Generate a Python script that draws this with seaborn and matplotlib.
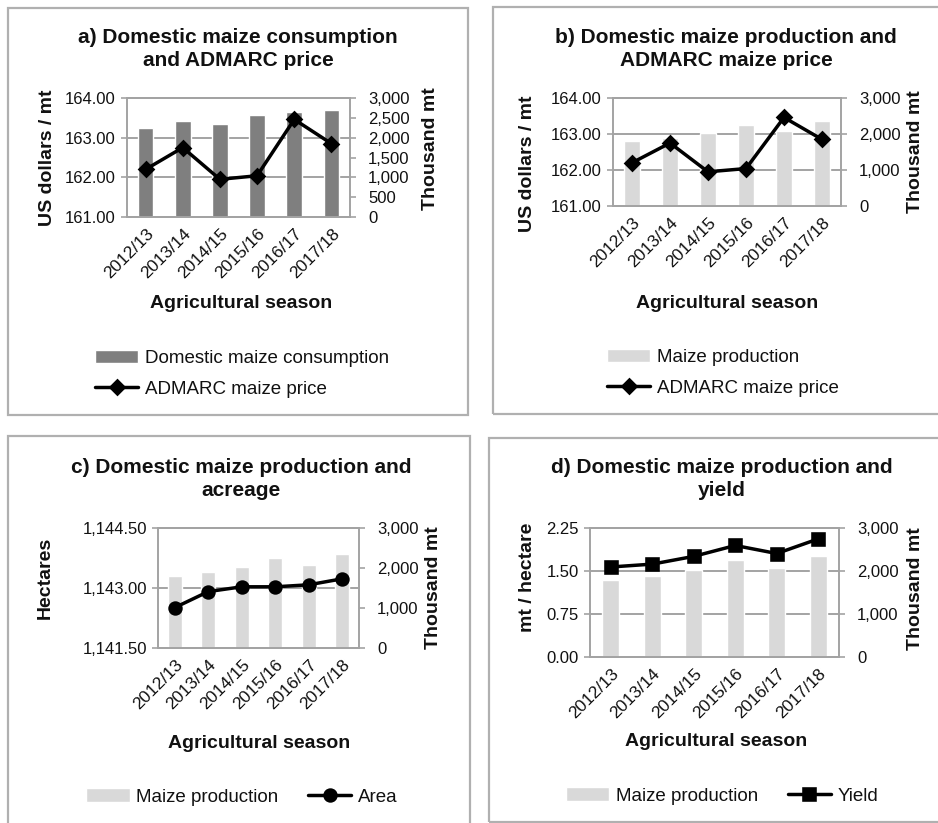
import numpy as np
import pandas as pd
import matplotlib
matplotlib.use("Agg")
import matplotlib.pyplot as plt
import matplotlib.transforms as mtransforms
from matplotlib.patches import Rectangle
from matplotlib.ticker import FuncFormatter
import seaborn as sns

# ---------------- data ----------------
seasons = ['2012/13', '2013/14', '2014/15', '2015/16', '2016/17', '2017/18']
consumption = [2250, 2410, 2335, 2570, 2655, 2690]          # thousand mt
production = [1800, 1890, 2030, 2250, 2080, 2360]           # thousand mt
admarc_price = [162.20, 162.75, 161.95, 162.04, 163.46, 162.85]  # US$/mt
area = [1142.51, 1142.91, 1143.03, 1143.03, 1143.08, 1143.23]    # hectares
yield_mt_ha = [1.57, 1.62, 1.755, 1.945, 1.805, 2.06]            # mt/ha

price_ticks = [161.0, 162.0, 163.0, 164.0]
area_ticks = [1141.5, 1143.0, 1144.5]
yield_ticks = [0.0, 0.75, 1.5, 2.25]
thousand_ticks_a = [0, 500, 1000, 1500, 2000, 2500, 3000]
thousand_ticks = [0, 1000, 2000, 3000]

# ---------------- style ----------------
sns.set_theme(style="white")
plt.rcParams['font.family'] = ['Liberation Sans', 'DejaVu Sans']
W, H = 938, 823
fig = plt.figure(figsize=(W / 100, H / 100), dpi=100)
fig.patch.set_facecolor('white')

GRID = '#a3a3a3'
BORDER = '#b0b0b0'
TXT = '#111111'
DARK_BAR = '#7f7f7f'
LIGHT_BAR = '#d9d9d9'


def fx(x):
    return x / W


def fy(y):
    return 1 - y / H


def rect(l, t, r, b):
    return [fx(l), fy(b), (r - l) / W, (b - t) / H]


def panel_box(l, t, r, b):
    fig.patches.append(Rectangle((fx(l), fy(b)), (r - l) / W, (b - t) / H,
                                 transform=fig.transFigure, fill=False,
                                 edgecolor=BORDER, lw=1.6, zorder=0))


def make_panel(box, bars, bar_color, line_vals, marker, msize,
               left_ticks, left_fmt, right_ticks):
    ax_line = fig.add_axes(rect(*box))
    ax_bar = ax_line.twinx()

    df = pd.DataFrame({'season': seasons, 'bars': bars, 'line': line_vals})
    sns.barplot(data=df, x='season', y='bars', ax=ax_bar, color=bar_color,
                width=0.42, saturation=1, zorder=2)
    sns.pointplot(data=df, x='season', y='line', ax=ax_line, color='black',
                  markers=marker, linestyles='-', errorbar=None,
                  markersize=msize, linewidth=2.5)
    for ax in (ax_line, ax_bar):
        if ax.get_legend() is not None:
            ax.get_legend().remove()

    ax_line.set_zorder(ax_bar.get_zorder() + 1)
    ax_line.patch.set_visible(False)

    ax_line.set_ylim(left_ticks[0], left_ticks[-1])
    ax_line.set_yticks(left_ticks)
    ax_line.yaxis.set_major_formatter(FuncFormatter(left_fmt))
    ax_bar.set_ylim(right_ticks[0], right_ticks[-1])
    ax_bar.set_yticks(right_ticks)
    ax_bar.yaxis.set_major_formatter(FuncFormatter(lambda v, p: f'{v:,.0f}'))
    ax_line.set_xlim(-0.5, len(seasons) - 0.5)

    # horizontal gridlines behind the bars, placed on the left-axis scale
    for t in left_ticks:
        ax_bar.plot([0, 1], [t, t], transform=ax_line.get_yaxis_transform(),
                    color=GRID, lw=1.4, zorder=0.5, clip_on=False)

    for ax in (ax_line, ax_bar):
        ax.grid(False)
        ax.set_xlabel('')
        ax.set_ylabel('')
    for s in ax_bar.spines.values():
        s.set_visible(False)
    for s in ax_line.spines.values():
        s.set_color(GRID)
        s.set_linewidth(1.4)

    ax_line.tick_params(axis='y', direction='out', length=4, width=1.2,
                        color=GRID, labelsize=12, labelcolor=TXT, pad=4)
    ax_bar.tick_params(axis='y', direction='out', length=4, width=1.2,
                       color=GRID, labelsize=12, labelcolor=TXT, pad=9)
    ax_line.tick_params(axis='x', which='major', length=0, labelsize=12.5,
                        labelcolor=TXT, pad=10, labelrotation=45)
    ax_line.set_xticks(np.arange(-0.5, len(seasons)), minor=True)
    ax_line.tick_params(axis='x', which='minor', direction='out', length=5,
                        width=1.2, color=GRID)
    shift = mtransforms.ScaledTranslation(4 / 72, 0, fig.dpi_scale_trans)
    for lab in ax_line.get_xticklabels():
        lab.set_ha('right')
        lab.set_va('center')
        lab.set_rotation_mode('anchor')
        lab.set_transform(lab.get_transform() + shift)

    handles = [ax_bar.patches[0], ax_line.lines[0]]
    return handles


def fmt2(v, p):
    return f'{v:.2f}'


def fmt_area(v, p):
    return f'{v:,.2f}'


# ---------------- panel boxes ----------------
panel_box(8, 8, 468, 415)
panel_box(493, 7, 945, 414)
panel_box(8, 436, 470, 830)
panel_box(489, 438, 945, 822)

# ---------------- panels ----------------
ha = make_panel((127, 98, 350, 217), consumption, DARK_BAR, admarc_price, 'D', 7,
                price_ticks, fmt2, thousand_ticks_a)
hb = make_panel((613, 98, 841, 206), production, LIGHT_BAR, admarc_price, 'D', 7,
                price_ticks, fmt2, thousand_ticks)
hc = make_panel((158, 528, 359, 648), production, LIGHT_BAR, area, 'o', 8.5,
                area_ticks, fmt_area, thousand_ticks)
hd = make_panel((590, 528, 839, 657), production, LIGHT_BAR, yield_mt_ha, 's', 9,
                yield_ticks, fmt2, thousand_ticks)

# ---------------- texts ----------------
title_kw = dict(ha='center', va='center', fontsize=15, fontweight='bold',
                color=TXT, linespacing=1.25)
fig.text(fx(238), fy(49), 'a) Domestic maize consumption\nand ADMARC price', **title_kw)
fig.text(fx(726), fy(49), 'b) Domestic maize production and\nADMARC maize price', **title_kw)
fig.text(fx(241), fy(479), 'c) Domestic maize production and\nacreage', **title_kw)
fig.text(fx(722), fy(479), 'd) Domestic maize production and\nyield', **title_kw)

lab_kw = dict(ha='center', va='center', fontsize=14, fontweight='bold', color=TXT)
for (x, y) in [(241, 304), (727, 303), (259, 743), (716, 742)]:
    fig.text(fx(x), fy(y), 'Agricultural season', **lab_kw)

for (x, y, s) in [(47, 158, 'US dollars / mt'), (528, 164, 'US dollars / mt'),
                  (45, 578, 'Hectares'), (527, 577, 'mt / hectare')]:
    fig.text(fx(x), fy(y), s, rotation=90, **lab_kw)
for (x, y) in [(430, 149), (915, 152), (433, 588), (915, 589)]:
    fig.text(fx(x), fy(y), 'Thousand mt', rotation=90, **lab_kw)

# ---------------- legends ----------------
leg_kw = dict(loc='center', frameon=False, fontsize=13.5, handlelength=2.3,
              handletextpad=0.35, labelcolor=TXT)
fig.legend(ha, ['Domestic maize consumption', 'ADMARC maize price'],
           bbox_to_anchor=(fx(242), fy(374)), ncol=1, labelspacing=0.7, **leg_kw)
fig.legend(hb, ['Maize production', 'ADMARC maize price'],
           bbox_to_anchor=(fx(723), fy(373)), ncol=1, labelspacing=0.7, **leg_kw)
fig.legend(hc, ['Maize production', 'Area'],
           bbox_to_anchor=(fx(242), fy(797)), ncol=2, columnspacing=1.6, **leg_kw)
fig.legend(hd, ['Maize production', 'Yield'],
           bbox_to_anchor=(fx(722), fy(796)), ncol=2, columnspacing=1.6, **leg_kw)

fig.savefig('out.png', dpi=100, facecolor='white')
